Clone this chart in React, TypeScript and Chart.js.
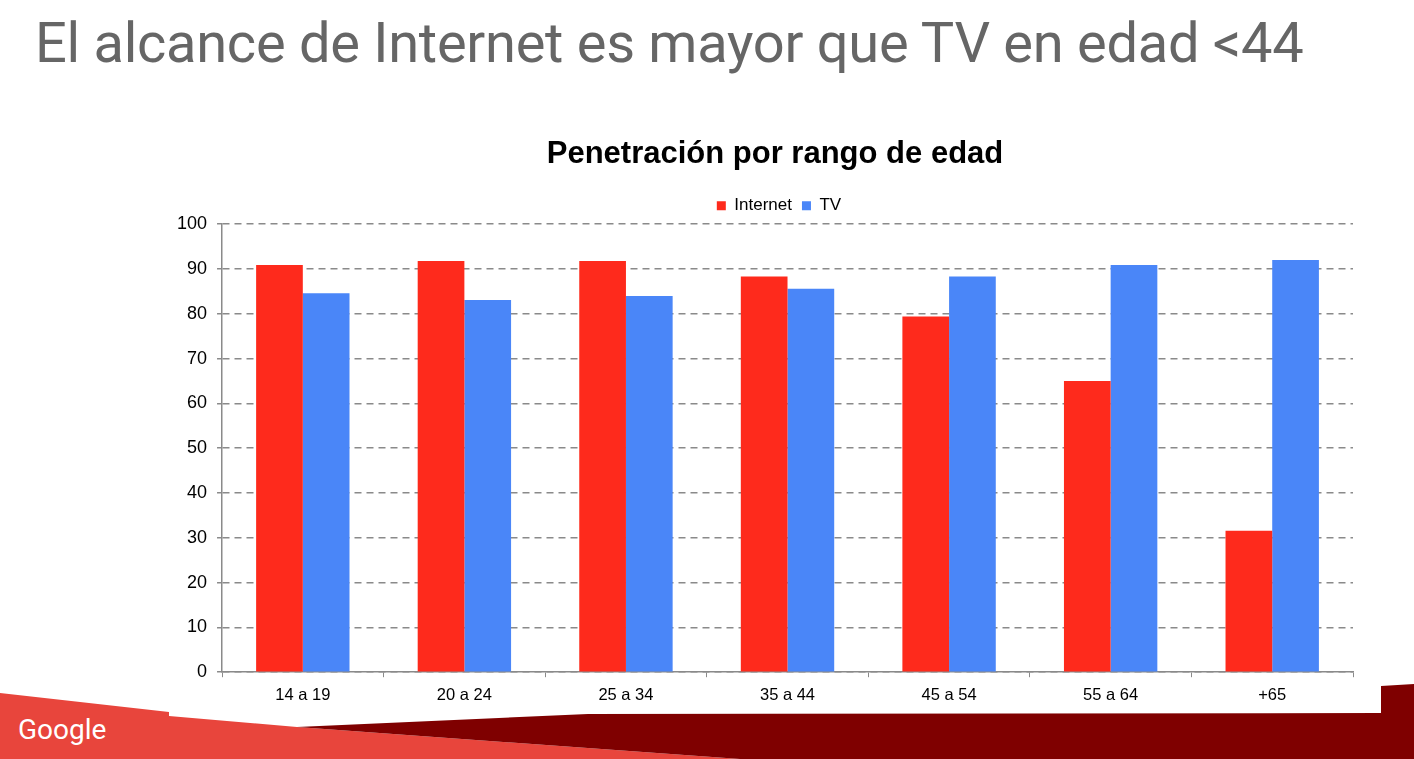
import React, { useEffect, useRef } from 'react';
import { Chart, registerables } from 'chart.js';

Chart.register(...registerables);

const categories = ['14 a 19', '20 a 24', '25 a 34', '35 a 44', '45 a 54', '55 a 64', '+65'];
const internetValues = [90.9, 91.8, 91.8, 88.3, 79.4, 65.0, 31.6];
const tvValues = [84.6, 83.1, 84.0, 85.6, 88.3, 90.9, 92.0];
const yTicks = [0, 10, 20, 30, 40, 50, 60, 70, 80, 90, 100];

const RED = '#fe2a1c';
const BLUE = '#4a86f8';
const GRID = '#8a8a8a';

// the original centres the title and legend a little right of the plot's middle
const shiftHeader = {
  id: 'shiftHeader',
  afterLayout(chart: any) {
    if (chart.titleBlock) chart.titleBlock.left += 30;
    if (chart.legend) chart.legend.left += 38;
  },
};

const PenetracionChart = () => {
  const chartRef = useRef<HTMLCanvasElement>(null);
  const chartInstance = useRef<Chart | null>(null);

  useEffect(() => {
    if (!chartRef.current) return;
    if (chartInstance.current) chartInstance.current.destroy();

    const font = "'Liberation Sans', Arial, Helvetica, sans-serif";

    chartInstance.current = new Chart(chartRef.current, {
      type: 'bar',
      data: {
        labels: categories,
        datasets: [
          {
            label: 'Internet',
            data: internetValues,
            backgroundColor: RED,
            borderWidth: 0,
            categoryPercentage: 0.578,
            barPercentage: 1,
          },
          {
            label: 'TV',
            data: tvValues,
            backgroundColor: BLUE,
            borderWidth: 0,
            categoryPercentage: 0.578,
            barPercentage: 1,
          },
        ],
      },
      plugins: [shiftHeader],
      options: {
        animation: false,
        responsive: true,
        maintainAspectRatio: false,
        layout: { padding: { left: 7, right: 28, top: 0, bottom: 0 } },
        plugins: {
          title: {
            display: true,
            text: 'Penetración por rango de edad',
            color: '#000',
            font: { family: font, size: 31, weight: 'bold' },
            padding: { top: 16, bottom: 14 },
          },
          legend: {
            position: 'top',
            labels: {
              color: '#000',
              font: { family: font, size: 17 },
              boxWidth: 9,
              boxHeight: 9,
              padding: 10,
            },
          },
          tooltip: { enabled: false },
        },
        scales: {
          x: {
            grid: {
              display: true,
              drawOnChartArea: false,
              drawTicks: true,
              tickLength: 5,
              color: GRID,
            },
            border: { display: true, color: GRID, width: 1.5 },
            ticks: {
              color: '#000',
              font: { family: font, size: 16.5 },
              padding: 8,
            },
          },
          y: {
            min: 0,
            max: 100,
            afterBuildTicks: (axis: any) => {
              axis.ticks = yTicks.map((v) => ({ value: v }));
            },
            grid: {
              color: GRID,
              lineWidth: 1.5,
              tickLength: 5,
            },
            border: { display: true, color: GRID, width: 1.5, dash: [7, 5] },
            ticks: {
              color: '#000',
              font: { family: font, size: 18 },
              padding: 10,
            },
          },
        },
      },
    });

    return () => {
      if (chartInstance.current) {
        chartInstance.current.destroy();
        chartInstance.current = null;
      }
    };
  }, []);

  return (
    <div style={{ position: 'absolute', left: 160, top: 120, width: 1221, height: 593 }}>
      <canvas ref={chartRef}></canvas>
    </div>
  );
};

export default function App() {
  return (
    <div
      style={{
        position: 'fixed',
        left: 0,
        top: 0,
        width: 1414,
        height: 759,
        overflow: 'hidden',
        background: '#fff',
      }}
    >
      <svg
        width={1414}
        height={759}
        style={{ position: 'absolute', left: 0, top: 0 }}
      >
        <polygon
          points="0,693 169,712 169,716 297,727 740,759 0,759"
          fill="#e8453c"
        />
        <polygon
          points="297,727 588,714 1381,713 1381,686 1414,684 1414,759 740,759"
          fill="#7f0000"
        />
      </svg>
      <div
        style={{
          position: 'absolute',
          left: 35,
          top: 15,
          fontFamily: 'Roboto, sans-serif',
          fontWeight: 400,
          fontSize: 56,
          lineHeight: '56px',
          letterSpacing: '-0.28px',
          color: '#666666',
          whiteSpace: 'nowrap',
        }}
      >
        El alcance de Internet es mayor que TV en edad &lt;44
      </div>
      <PenetracionChart />
      <div
        style={{
          position: 'absolute',
          left: 18,
          top: 716,
          fontFamily: 'Roboto, sans-serif',
          fontSize: 28,
          lineHeight: '28px',
          color: '#fff',
        }}
      >
        Google
      </div>
    </div>
  );
}
